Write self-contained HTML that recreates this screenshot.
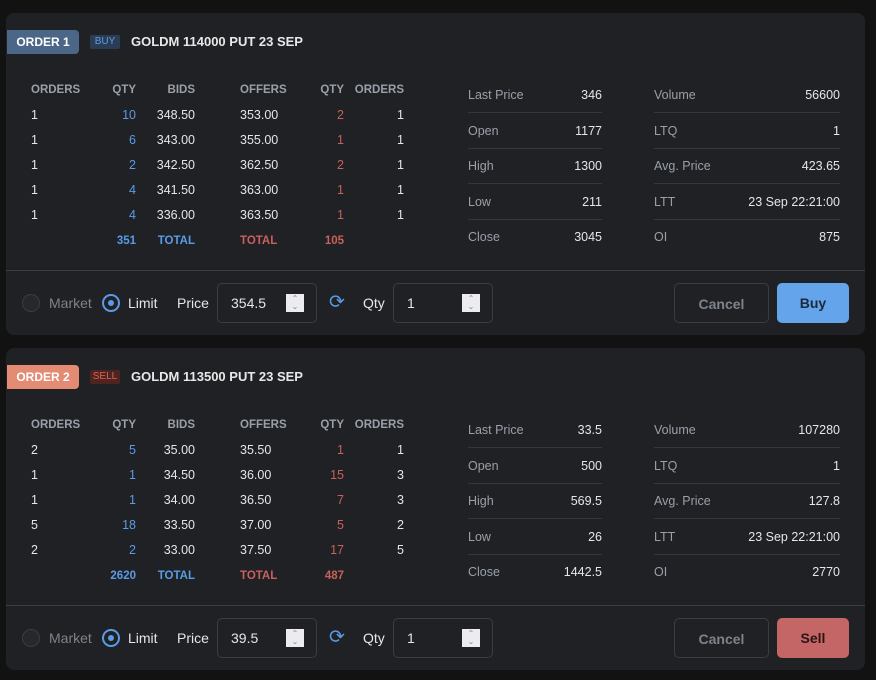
<!DOCTYPE html>
<html><head><meta charset="utf-8"><style>
*{box-sizing:border-box;margin:0;padding:0}
body{width:876px;height:680px;background:#121212;font-family:"Liberation Sans",sans-serif;position:relative;overflow:hidden;color:#e6e6e6}
.panel{position:absolute;left:6px;width:859px;height:322px;background:#1f2125;border-radius:8px}
.a{position:absolute;white-space:nowrap;font-size:12.5px;line-height:14px}
.hd{color:#9aa0a8;font-weight:bold;font-size:11.5px}
.blue{color:#5b9be6}.red{color:#c9605b}
.lbl{color:#9aa0a8}
.line{position:absolute;height:1px;background:#34373c}
.badge{position:absolute;left:1px;top:17px;width:72px;height:24px;border-radius:0 4px 4px 0;font-weight:bold;font-size:12px;line-height:24px;text-align:center;color:#fff}
.tag{position:absolute;left:84px;top:22px;width:30px;height:14px;font-size:10px;line-height:14px;text-align:center;border-radius:2px}
.title{position:absolute;left:125px;top:21px;font-weight:bold;font-size:13px;color:#e8e8e8}
.box{position:absolute;border:1px solid #3a3d42;border-radius:5px;height:40px;top:270px}
.spin{position:absolute;width:18px;height:18px;background:#ececf0;top:10px;color:#888;font-size:8px;line-height:8px;text-align:center;padding-top:1px}
.btn{position:absolute;top:270px;height:40px;border-radius:5px;font-size:14px;line-height:40px;text-align:center;font-weight:bold}
.radio{position:absolute;width:18px;height:18px;border-radius:50%;top:281px}
.ctl{position:absolute;top:282px;font-size:14px;line-height:16px}
</style></head><body>
<script>
const panels=[
 {y:13,label:"ORDER 1",tag:"BUY",title:"GOLDM 114000 PUT 23 SEP",badge:"#4b6686",tagBg:"#2b3d55",tagFg:"#5b9be6",
  bOrders:[1,1,1,1,1],bQty:[10,6,2,4,4],bids:["348.50","343.00","342.50","341.50","336.00"],
  offers:["353.00","355.00","362.50","363.00","363.50"],oQty:[2,1,2,1,1],oOrders:[1,1,1,1,1],bTot:351,oTot:105,
  stats1:["346","1177","1300","211","3045"],stats2:["56600","1","423.65","23 Sep 22:21:00","875"],
  price:"354.5",qty:"1",act:"Buy",actBg:"#64a4ea",actFg:"#1b2a3c"},
 {y:348,label:"ORDER 2",tag:"SELL",title:"GOLDM 113500 PUT 23 SEP",badge:"#e48b74",tagBg:"#4d2420",tagFg:"#e2614f",
  bOrders:[2,1,1,5,2],bQty:[5,1,1,18,2],bids:["35.00","34.50","34.00","33.50","33.00"],
  offers:["35.50","36.00","36.50","37.00","37.50"],oQty:[1,15,7,5,17],oOrders:[1,3,3,2,5],bTot:2620,oTot:487,
  stats1:["33.5","500","569.5","26","1442.5"],stats2:["107280","1","127.8","23 Sep 22:21:00","2770"],
  price:"39.5",qty:"1",act:"Sell",actBg:"#c46666",actFg:"#2a1515"}
];
const lab1=["Last Price","Open","High","Low","Close"],lab2=["Volume","LTQ","Avg. Price","LTT","OI"];
function t(p,txt,x,y,cls,right,name){
 const e=document.createElement('div');e.className='a '+(cls||'');e.textContent=txt;
 
 
 if(right){e.style.right=(859-right)+'px';}else e.style.left=x+'px';
 e.style.top=y+'px';p.appendChild(e);return e;}
panels.forEach((d,k)=>{
 const p=document.createElement('div');p.className='panel';p.style.top=d.y+'px';
 
 
 document.body.appendChild(p);
 p.innerHTML=`<div class="badge" style="background:${d.badge}">${d.label}</div>
 <div class="tag" style="background:${d.tagBg};color:${d.tagFg}">${d.tag}</div>
 <div class="title">${d.title}</div>
 <div class="line" style="left:0;width:859px;top:257px;background:#3a3d42"></div>`;
 const hy=70;
 t(p,"ORDERS",25,hy,'hd',0,'header-orders');t(p,"QTY",0,hy,'hd',130,'header-qty');t(p,"BIDS",0,hy,'hd',189,'header-bids');
 t(p,"OFFERS",234,hy,'hd',0,'header-offers');t(p,"QTY",0,hy,'hd',338,'header-qty');t(p,"ORDERS",0,hy,'hd',398,'header-orders');
 for(let i=0;i<5;i++){const y=95+i*25;
  t(p,d.bOrders[i],25,y,'',0,'bid-orders');t(p,d.bQty[i],0,y,'blue',130,'bid-qty');t(p,d.bids[i],0,y,'',189,'bid-price');
  t(p,d.offers[i],234,y,'',0,'offer-price');t(p,d.oQty[i],0,y,'red',338,'offer-qty');t(p,d.oOrders[i],0,y,'',398,'offer-orders');}
 t(p,d.bTot,0,221,'hd',130,'bid-total').style.color='#5b9be6';
 t(p,"TOTAL",0,221,'hd',189,'bid-total-label').style.color='#5b9be6';
 t(p,"TOTAL",234,221,'hd',0,'offer-total-label').style.color='#c9605b';
 t(p,d.oTot,0,221,'hd',338,'offer-total').style.color='#c9605b';
 for(let i=0;i<5;i++){const y=75+i*35.5;
  t(p,lab1[i],462,y,'lbl',0,'stat-label');t(p,d.stats1[i],0,y,'',596,'stat-value');
  t(p,lab2[i],648,y,'lbl',0,'stat-label');t(p,d.stats2[i],0,y,'',834,'stat-value');
  if(i<4){p.insertAdjacentHTML('beforeend',`<div class="line" style="left:462px;width:134px;top:${y+24}px"></div><div class="line" style="left:648px;width:186px;top:${y+24}px"></div>`);}
 }
 p.insertAdjacentHTML('beforeend',`
 <div class="radio" style="left:16px;border:1px solid #3a3d42;background:#25282c"></div>
 <div class="ctl" style="left:43px;color:#7d838b">Market</div>
 <div class="radio" style="left:96px;border:2px solid #5b9be6"><div style="width:6px;height:6px;border-radius:50%;background:#5b9be6;margin:4px"></div></div>
 <div class="ctl" style="left:122px">Limit</div>
 <div class="ctl" style="left:171px">Price</div>
 <div class="box" style="left:211px;width:100px"><div style="position:absolute;left:13px;top:11px;font-size:14px">${d.price}</div><div class="spin" style="left:68px">&#8963;<br>&#8964;</div></div>
 <div class="ctl" style="left:323px;top:280px;color:#5b9be6;font-size:19px;line-height:20px">&#10227;</div>
 <div class="ctl" style="left:357px">Qty</div>
 <div class="box" style="left:387px;width:100px"><div style="position:absolute;left:13px;top:11px;font-size:14px">${d.qty}</div><div class="spin" style="left:68px">&#8963;<br>&#8964;</div></div>
 <div class="btn" style="left:668px;width:95px;border:1px solid #3a3d42;color:#7d838b">Cancel</div>
 <div class="btn" style="left:771px;width:72px;background:${d.actBg};color:${d.actFg}">${d.act}</div>`);
});
</script>
</body></html>
